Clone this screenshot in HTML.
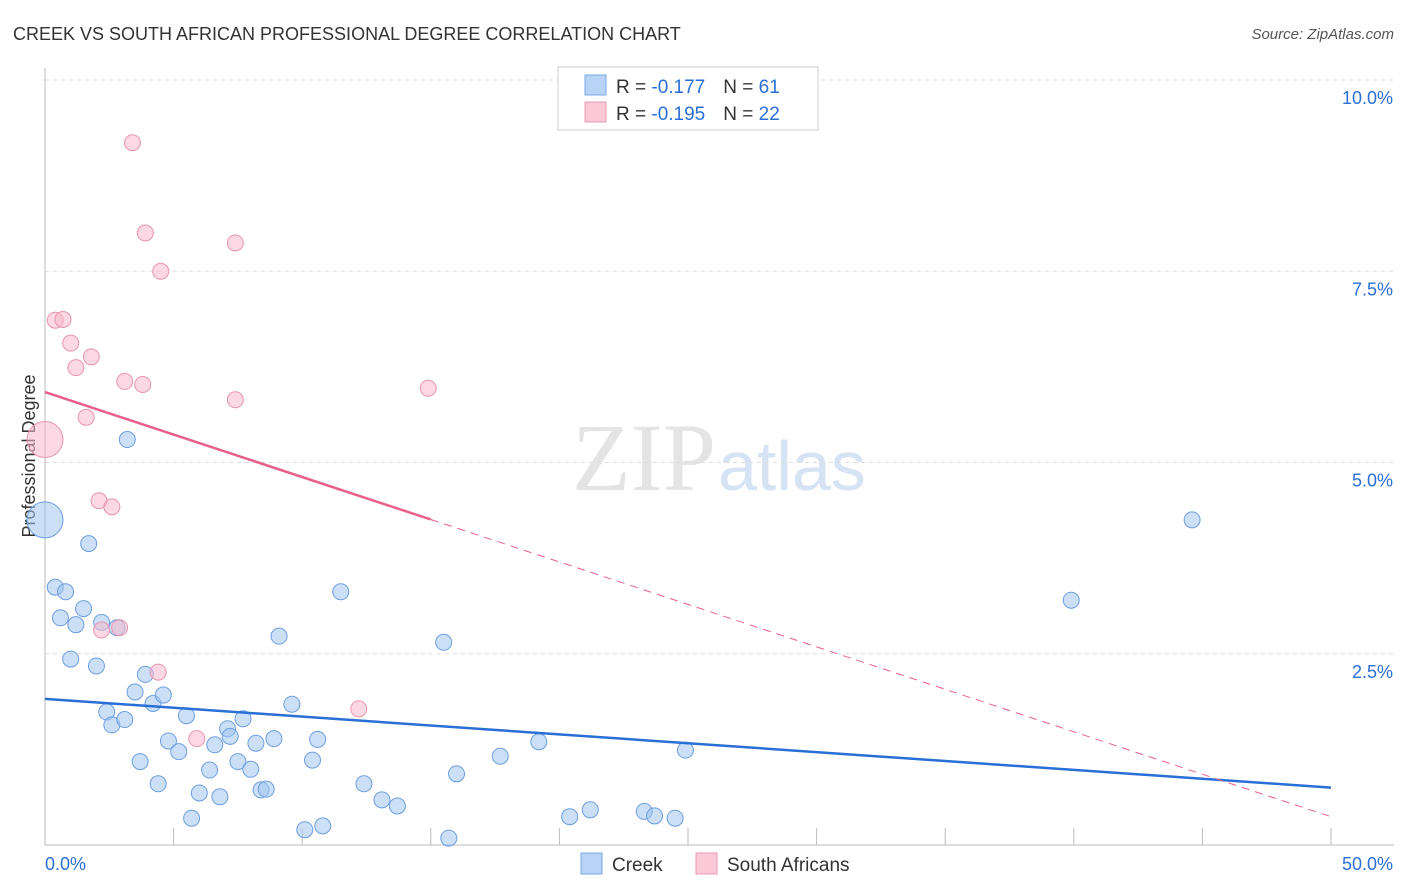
<!DOCTYPE html>
<html><head><meta charset="utf-8"><style>
body{margin:0;background:#fff;font-family:"Liberation Sans",sans-serif;}
</style></head><body>
<svg id="chart" width="1406" height="892" xmlns="http://www.w3.org/2000/svg" style="display:block">
<text x="13" y="40" font-size="18" fill="#333">CREEK VS SOUTH AFRICAN PROFESSIONAL DEGREE CORRELATION CHART</text>
<text x="1394" y="39" font-size="15" fill="#555" font-style="italic" text-anchor="end">Source: ZipAtlas.com</text>
<text x="716" y="490" font-size="96" fill="#e4e4e4" font-family="Liberation Serif,serif" text-anchor="end">ZIP</text>
<text x="718" y="490" font-size="70" fill="#d5e3f5">atlas</text>
<text x="35" y="456" font-size="18" fill="#333" text-anchor="middle" transform="rotate(-90 35 456)">Professional Degree</text>
<g id="grid"></g><g id="marks"></g>
<g>
<rect x="558" y="67" width="260" height="63" fill="#fff" stroke="#ccc"/>
<rect x="585" y="75" width="21" height="20" fill="#b8d3f5" stroke="#7aa8e6"/>
<text x="616" y="93" font-size="19" fill="#333">R = <tspan fill="#2a6fd6">-0.177</tspan><tspan dx="18">N = </tspan><tspan fill="#2a6fd6">61</tspan></text>
<rect x="585" y="102" width="21" height="20" fill="#fac8d7" stroke="#eb9ab3"/>
<text x="616" y="120" font-size="19" fill="#333">R = <tspan fill="#2a6fd6">-0.195</tspan><tspan dx="18">N = </tspan><tspan fill="#2a6fd6">22</tspan></text>
</g>
<g>
<rect x="581" y="853" width="21" height="21" fill="#b8d3f5" stroke="#7aa8e6"/>
<text x="612" y="871" font-size="19" fill="#333">Creek</text>
<rect x="696" y="853" width="21" height="21" fill="#fac8d7" stroke="#eb9ab3"/>
<text x="727" y="871" font-size="19" fill="#333">South Africans</text>
</g>
</svg>
<script>
const yTicks=[2.5,5.0,7.5,10.0];
const xTickLabels=["0.0%","50.0%"];
const creekX=[0.4,0.8,0.6,1.2,1.5,2.2,2.8,1.7,3.2,1.0,2.0,2.4,2.6,3.1,3.5,3.9,4.2,4.6,3.7,4.4,4.8,5.2,5.5,5.7,6.0,6.4,6.6,6.8,7.1,7.2,7.5,7.7,8.0,8.2,8.4,8.6,8.9,9.1,9.6,10.1,10.4,10.6,10.8,11.5,12.4,13.1,13.7,15.5,15.7,16.0,17.7,19.2,20.4,21.2,23.3,23.7,24.5,24.9,39.9,44.6,0.0];
const creekY=[3.37,3.31,2.97,2.88,3.09,2.91,2.84,3.94,5.3,2.43,2.34,1.74,1.57,1.64,2.0,2.23,1.85,1.96,1.09,0.8,1.36,1.22,1.69,0.35,0.68,0.98,1.31,0.63,1.52,1.42,1.09,1.65,0.99,1.33,0.72,0.73,1.39,2.73,1.84,0.2,1.11,1.38,0.25,3.31,0.8,0.59,0.51,2.65,0.09,0.93,1.16,1.35,0.37,0.46,0.44,0.38,0.35,1.24,3.2,4.25,4.25];
const saX=[3.4,3.9,7.4,4.5,0.4,0.7,1.0,1.8,1.2,3.1,3.8,7.4,14.9,1.6,0.0,2.1,2.6,2.2,2.9,4.4,12.2,5.9];
const saY=[9.18,8.0,7.87,7.5,6.86,6.87,6.56,6.38,6.24,6.06,6.02,5.82,5.97,5.59,5.3,4.5,4.42,2.81,2.84,2.26,1.78,1.39];
const creekTrend=[1.91,0.75];
const saTrend=[5.92,0.37];
const X0=45,X1=1331,YB=845,YT=80;
const sx=v=>X0+(X1-X0)*v/50, sy=v=>YB-(YB-YT)*v/10;
const NS="http://www.w3.org/2000/svg";
function mk(t,a,p){const e=document.createElementNS(NS,t);for(const k in a)e.setAttribute(k,a[k]);p.appendChild(e);return e;}
const grid=document.getElementById('grid'),marks=document.getElementById('marks');
yTicks.forEach(v=>{
 const l=mk('line',{x1:45,x2:1394,y1:sy(v),y2:sy(v),stroke:'#ddd','stroke-dasharray':'4,4'},grid);
 
 
 const t=mk('text',{x:1393,y:sy(v)+24,'font-size':18,fill:'#2a6fd6','text-anchor':'end'},grid);
 t.textContent=v.toFixed(1)+'%';
 
 
});
mk('line',{x1:45,x2:45,y1:68,y2:845,stroke:'#bbb'},grid);
mk('line',{x1:45,x2:1394,y1:845,y2:845,stroke:'#bbb'},grid);
for(let i=0;i<=10;i++){const l=mk('line',{x1:sx(i*5),x2:sx(i*5),y1:828,y2:845,stroke:'#bbb'},grid);
 
 }
xTickLabels.forEach((s,i)=>{const t=mk('text',{x:i?1393:45,y:870,'font-size':18,fill:'#2a6fd6','text-anchor':i?'end':'start'},grid);t.textContent=s;
 
 });
creekX.forEach((x,i)=>{const c=mk('circle',{cx:sx(x),cy:sy(creekY[i]),r:i==creekX.length-1?18:8,fill:'rgba(160,196,240,0.55)',stroke:'#6d9fe0','stroke-width':1},marks);
 
 });
saX.forEach((x,i)=>{const c=mk('circle',{cx:sx(x),cy:sy(saY[i]),r:i==14?18:8,fill:'rgba(248,184,204,0.55)',stroke:'#e895b0','stroke-width':1},marks);
 
 });
const ct=mk('line',{x1:sx(0),y1:sy(creekTrend[0]),x2:sx(50),y2:sy(creekTrend[1]),stroke:'#2a6fd6','stroke-width':2.5},marks);


const sv=x=>saTrend[0]+(saTrend[1]-saTrend[0])*x/50;
const s1=mk('line',{x1:sx(0),y1:sy(sv(0)),x2:sx(15),y2:sy(sv(15)),stroke:'#e8608a','stroke-width':2.5},marks);


const s2=mk('line',{x1:sx(15),y1:sy(sv(15)),x2:sx(50),y2:sy(sv(50)),stroke:'#e8608a','stroke-width':1,'stroke-dasharray':'8,6'},marks);


</script>
</body></html>
